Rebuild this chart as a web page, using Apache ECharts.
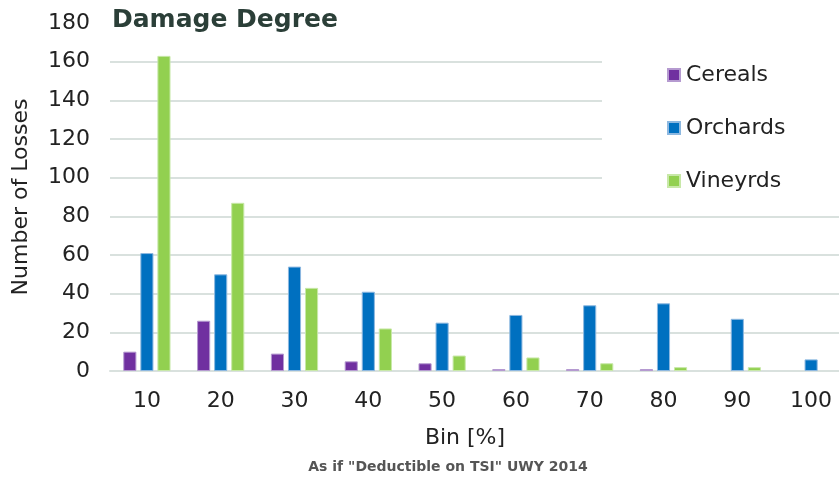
<!DOCTYPE html>
<html>
<head>
<meta charset="utf-8">
<script src="https://cdn.jsdelivr.net/npm/echarts@6/dist/echarts.min.js"></script>
<style>
  html, body { margin: 0; padding: 0; background: #fff; }
  #chart { width: 839px; height: 480px; }
</style>
</head>
<body>
<div id="chart"></div>
<script>
// Loss counts per damage-degree bin
const bins = ['10', '20', '30', '40', '50', '60', '70', '80', '90', '100'];
const cereals   = [10, 26, 9, 5, 4, 1, 1, 1, 0, 0];
const orchards  = [61, 50, 54, 41, 25, 29, 34, 35, 27, 6];
const vineyards = [163, 87, 43, 22, 8, 7, 4, 2, 2, 0];

const FONT = '"DejaVu Sans", sans-serif';
const TEXT = '#222';
const GRID = '#d9e1de';

function barSeries(name, data, color, border) {
  return {
    name: name,
    type: 'bar',
    // empty bins get no outline so nothing shows on the baseline
    data: data.map(function (v) {
      return v === 0 ? { value: v, itemStyle: { borderWidth: 0 } } : v;
    }),
    barGap: '30%',
    barCategoryGap: '36%',
    itemStyle: { color: color, borderColor: border, borderWidth: 1 }
  };
}

// grid lines at 0..160, none at the 180 top
const splitColors = [GRID, GRID, GRID, GRID, GRID, GRID, GRID, GRID, GRID, 'rgba(0,0,0,0)'];

const chart = echarts.init(document.getElementById('chart'), null, { renderer: 'canvas' });
chart.setOption({
  animation: false,
  backgroundColor: '#fff',
  textStyle: { fontFamily: FONT },
  graphic: [
    {
      type: 'text', left: 112, top: 8, z: 10,
      style: { text: 'Damage Degree', font: 'bold 25px ' + FONT, fill: '#2b3f38' }
    },
    {
      type: 'text', x: 465, y: 438, z: 10,
      style: { text: 'Bin [%]', font: '22px ' + FONT, fill: TEXT, align: 'center', verticalAlign: 'middle' }
    },
    {
      type: 'text', x: 448, y: 467, z: 10,
      style: { text: 'As if "Deductible on TSI" UWY 2014', font: 'bold 14px ' + FONT, fill: '#555', align: 'center', verticalAlign: 'middle' }
    }
  ],
  legend: {
    orient: 'vertical',
    left: 602, top: 48,
    itemWidth: 12, itemHeight: 12,
    itemGap: 31,
    backgroundColor: '#fff',
    padding: [16, 60, 8, 65],
    icon: 'rect',
    textStyle: { fontFamily: FONT, fontSize: 22, color: TEXT, padding: [0, 0, 0, 1] },
    data: ['Cereals', 'Orchards', 'Vineyrds']
  },
  grid: { left: 110, right: -9, top: 23, bottom: 109, containLabel: false, outerBoundsMode: 'none' },
  xAxis: {
    type: 'category',
    data: bins,
    axisLine: { show: true, lineStyle: { color: GRID, width: 2 } },
    axisTick: { show: false },
    axisLabel: { fontFamily: FONT, fontSize: 22, color: TEXT, margin: 19 }
  },
  yAxis: {
    type: 'value',
    min: 0, max: 180, interval: 20,
    axisLine: { show: false },
    axisTick: { show: false },
    splitLine: { lineStyle: { color: splitColors, width: 2 } },
    axisLabel: { fontFamily: FONT, fontSize: 22, color: TEXT, margin: 20 },
    name: 'Number of Losses',
    nameLocation: 'middle',
    nameGap: 78,
    nameTextStyle: { fontFamily: FONT, fontSize: 22, color: TEXT }
  },
  series: [
    barSeries('Cereals', cereals, '#7030a0', '#b59ad0'),
    barSeries('Orchards', orchards, '#0070c0', '#8db8e0'),
    barSeries('Vineyrds', vineyards, '#92d050', '#c8e8a8')
  ]
});
</script>
</body>
</html>
